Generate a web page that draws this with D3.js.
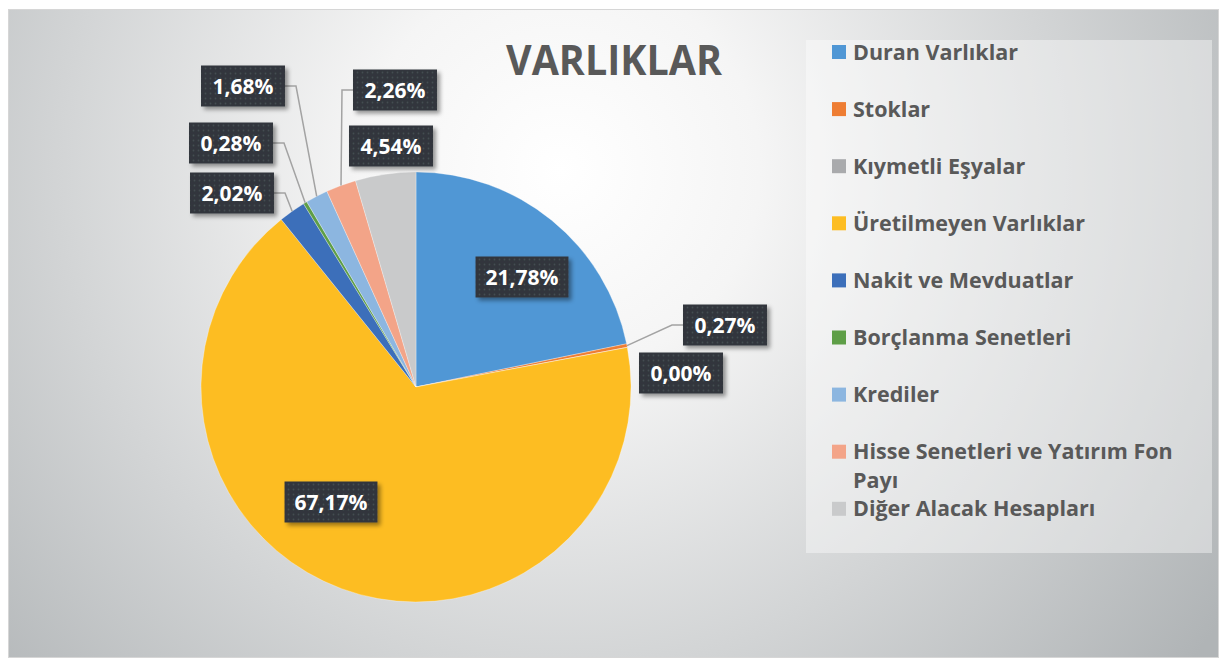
<!DOCTYPE html>
<html>
<head>
<meta charset="utf-8">
<script src="https://cdn.jsdelivr.net/npm/d3@7/dist/d3.min.js"></script>
<style>
  body { margin: 0; background: #fff; }
  svg { display: block; }
  text { font-family: "Open Sans", Lato, sans-serif; font-weight: bold; }
</style>
</head>
<body>
<svg width="1225" height="659"></svg>
<script>
// chart data
var title = 'VARLIKLAR';
var categories = ['Duran Varlıklar', 'Stoklar', 'Kıymetli Eşyalar', 'Üretilmeyen Varlıklar',
    'Nakit ve Mevduatlar', 'Borçlanma Senetleri', 'Krediler',
    'Hisse Senetleri ve Yatırım Fon Payı', 'Diğer Alacak Hesapları'];
var values = [21.78, 0.27, 0.00, 67.17, 2.02, 0.28, 1.68, 2.26, 4.54];
var colors = ['#5097d5', '#ee7d33', '#a9aaac', '#fdbd22', '#3c6fba', '#5e9e47', '#8cb6e0', '#f3a488', '#c9cacb'];

// label box centres relative to pie centre, and whether a leader line is drawn
var labelLayout = [
    {dx: 106, dy: -110, leader: false},
    {dx: 309, dy: -62, leader: true},
    {dx: 265, dy: -14, leader: false},
    {dx: -85, dy: 115, leader: false},
    {dx: -184, dy: -194, leader: true},
    {dx: -185, dy: -244, leader: true},
    {dx: -173, dy: -301, leader: true},
    {dx: -21, dy: -297, leader: true},
    {dx: -25, dy: -241, leader: false}
];

var svg = d3.select('svg');
var defs = svg.append('defs');

// background gradient
var bg = defs.append('radialGradient')
    .attr('id', 'bg')
    .attr('gradientUnits', 'userSpaceOnUse')
    .attr('cx', 560).attr('cy', 170).attr('r', 800);
bg.append('stop').attr('offset', 0).attr('stop-color', '#ffffff');
bg.append('stop').attr('offset', 0.25).attr('stop-color', '#f5f5f5');
bg.append('stop').attr('offset', 1).attr('stop-color', '#b0b4b6');

// dotted fill for the label boxes
var pat = defs.append('pattern')
    .attr('id', 'dots')
    .attr('patternUnits', 'userSpaceOnUse')
    .attr('width', 5).attr('height', 5);
pat.append('rect').attr('width', 5).attr('height', 5).attr('fill', '#30363c');
pat.append('circle').attr('cx', 2.5).attr('cy', 2.5).attr('r', 0.9).attr('fill', '#454b52');

var shadow = defs.append('filter').attr('id', 'shadow')
    .attr('x', '-20%').attr('y', '-20%').attr('width', '150%').attr('height', '160%');
shadow.append('feDropShadow')
    .attr('dx', 3).attr('dy', 3).attr('stdDeviation', 2)
    .attr('flood-color', '#000').attr('flood-opacity', 0.4);

// frame
svg.append('rect')
    .attr('x', 8.5).attr('y', 9.5)
    .attr('width', 1210).attr('height', 648)
    .attr('fill', 'url(#bg)')
    .attr('stroke', '#d6d6d6');

// title
svg.append('text')
    .attr('x', 614).attr('y', 75)
    .attr('text-anchor', 'middle')
    .attr('font-size', 41)
    .attr('fill', '#595959')
    .attr('textLength', 216)
    .attr('lengthAdjust', 'spacingAndGlyphs')
    .text(title);

// pie
var cx = 416, cy = 387, radius = 215;
var pie = d3.pie().sort(null).value(function(d) { return d; });
var arc = d3.arc().innerRadius(0).outerRadius(radius);
var arcs = pie(values);

var g = svg.append('g').attr('transform', 'translate(' + cx + ',' + cy + ')');

g.selectAll('path')
    .data(arcs)
    .enter()
    .append('path')
        .attr('d', arc)
        .attr('fill', function(d, i) { return colors[i]; })
        .attr('stroke', '#ffffff')
        .attr('stroke-opacity', 0.5)
        .attr('stroke-width', 0.6);

// data labels
function fmt(v) {
    return v.toFixed(2).replace('.', ',') + '%';
}

var boxH = 41;
arcs.forEach(function(d, i) {
    var lay = labelLayout[i];
    var lbl = g.append('g').attr('transform', 'translate(' + lay.dx + ',' + lay.dy + ')');
    var txt = lbl.append('text')
        .attr('text-anchor', 'middle')
        .attr('y', 8)
        .attr('font-size', 21)
        .attr('fill', '#ffffff')
        .text(fmt(values[i]));
    var tw = txt.node().getComputedTextLength();
    var w = 84;
    if (tw > 66) w = tw + 20;

    lbl.insert('rect', 'text')
        .attr('x', -w / 2).attr('y', -boxH / 2)
        .attr('width', w).attr('height', boxH)
        .attr('fill', 'url(#dots)')
        .attr('filter', 'url(#shadow)');

    if (!lay.leader) return;

    // leader line from the box edge to the slice rim
    var mid = (d.startAngle + d.endAngle) / 2;
    var px = Math.sin(mid) * radius;
    var py = -Math.cos(mid) * radius;
    var side = px < lay.dx ? -1 : 1;
    var ex = lay.dx + side * w / 2;
    g.insert('polyline', 'g')
        .attr('points', [[ex, lay.dy], [ex + side * 11, lay.dy], [px, py]].join(' '))
        .attr('fill', 'none')
        .attr('stroke', '#a3a3a3')
        .attr('stroke-width', 1.5);
});

// legend
svg.append('rect')
    .attr('x', 806).attr('y', 40)
    .attr('width', 406).attr('height', 513)
    .attr('fill', '#ffffff')
    .attr('fill-opacity', 0.4);

var legend = svg.append('g');
categories.forEach(function(c, i) {
    var y = 52 + i * 57.1;
    legend.append('rect')
        .attr('x', 832).attr('y', y - 7)
        .attr('width', 14).attr('height', 14)
        .attr('fill', colors[i]);
    var t = legend.append('text')
        .attr('x', 853).attr('y', y + 7.5)
        .attr('font-size', 21.5)
        .attr('fill', '#595959');

    // simple word wrap
    var words = c.split(' ');
    var line = [];
    var tspan = t.append('tspan').attr('x', 853);
    words.forEach(function(wd) {
        line.push(wd);
        tspan.text(line.join(' '));
        if (tspan.node().getComputedTextLength() > 345 && line.length > 1) {
            line.pop();
            tspan.text(line.join(' '));
            line = [wd];
            tspan = t.append('tspan').attr('x', 853).attr('dy', 29).text(wd);
        }
    });
});
</script>
</body>
</html>
